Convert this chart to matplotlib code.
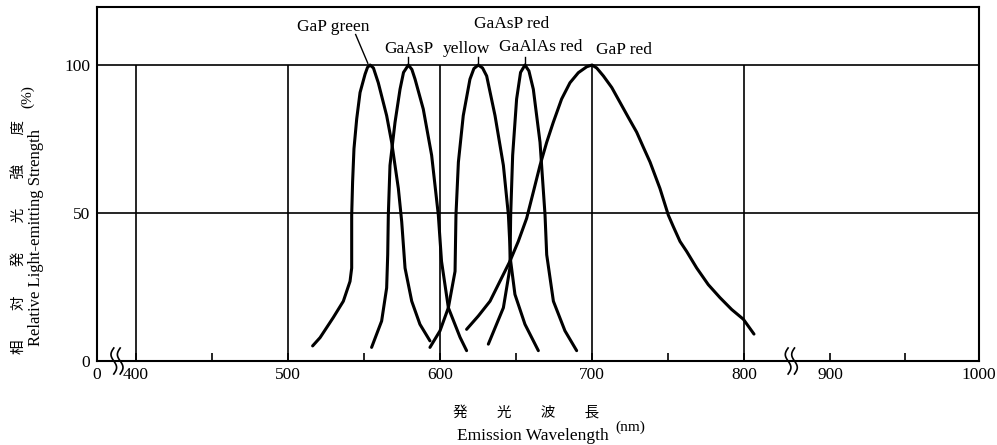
import numpy as np
import matplotlib
matplotlib.use('Agg')
import matplotlib.pyplot as plt

plt.rcParams['font.family'] = ['Liberation Serif', 'Noto Sans CJK JP', 'DejaVu Sans']

# wavelength (nm) / relative intensity (%)
gap_green_wl = [516.2, 521.1, 529.8, 536.4, 540.8, 541.9, 541.9, 541.9, 542.5, 543.4, 545.2, 547.4,
                550.7, 552.3, 554.0, 556.2, 559.4, 564.9, 568.2, 572.6, 574.8, 577.0, 581.4, 586.8, 593.4]
gap_green_y = [5.1, 7.9, 14.7, 20.2, 26.9, 31.4, 40.4, 49.3, 60.5, 71.7, 81.8, 90.7,
               96.9, 99.2, 100.0, 99.0, 94.0, 82.9, 73.9, 58.3, 47.1, 31.4, 20.2, 12.4, 6.8]

gaasp_wl = [555.0, 561.6, 564.9, 565.6, 566.0, 567.1, 570.4, 573.7, 576.0, 579.2, 581.5, 583.6, 589.0,
            594.5, 598.9, 601.0, 605.5, 613.2, 617.5]
gaasp_y = [4.6, 13.5, 24.7, 35.9, 49.3, 66.1, 80.6, 91.8, 97.5, 100.0, 98.5, 95.2, 85.1,
           69.5, 49.3, 33.7, 18.0, 8.0, 3.5]

yellow_wl = [593.4, 600.0, 605.5, 609.9, 610.5, 612.1, 615.3, 619.7, 622.3, 625.2, 628.0, 630.7,
             636.2, 641.7, 645.0, 646.5, 649.3, 655.9, 664.7]
yellow_y = [4.6, 10.2, 18.0, 30.3, 49.3, 67.2, 82.9, 95.2, 98.8, 100.0, 99.0, 96.3,
            82.9, 66.1, 49.3, 33.7, 22.5, 12.4, 3.5]

gaalas_wl = [631.8, 641.7, 646.0, 646.5, 647.8, 650.4, 653.0, 655.9, 658.5, 661.4, 665.8, 669.1,
             670.2, 674.6, 682.2, 689.9]
gaalas_y = [5.7, 18.0, 31.4, 49.3, 69.5, 88.5, 97.5, 100.0, 98.0, 91.8, 73.9, 49.3,
            35.9, 20.2, 10.2, 3.5]

gap_red_wl = [617.5, 625.2, 632.9, 646.0, 651.5, 657.0, 661.4, 665.8, 670.2, 674.5, 680.0, 685.5,
              691.0, 696.5, 700.0, 703.1, 707.5, 713.0, 718.4, 723.9, 729.4, 733.8, 738.2, 744.7,
              750.2, 753.5, 757.9, 762.3, 768.9, 776.5, 784.2, 791.9, 799.6, 811.6]
gap_red_y = [10.7, 15.2, 20.2, 33.7, 40.4, 48.2, 57.1, 66.1, 73.9, 80.6, 88.5, 94.0,
             97.4, 99.4, 100.0, 99.0, 96.3, 92.4, 87.4, 82.3, 77.3, 72.2, 67.2, 58.3,
             49.3, 45.4, 40.4, 37.0, 31.4, 25.8, 21.4, 17.4, 14.1, 9.1]

x_ticks = [0, 400, 500, 600, 700, 800, 900, 1000]
x_minor = [450, 550, 650, 750, 950]
y_ticks = [0, 50, 100]
grid_x = [400, 500, 600, 700, 800]
breaks = [205, 855]

# broken axis: piecewise linear scale
knots_wl = [0, 400, 800, 900, 1000]
knots_px = [97, 136, 744, 830, 979]


def fwd(x):
    return np.interp(x, knots_wl, knots_px)


def inv(p):
    return np.interp(p, knots_px, knots_wl)


fig = plt.figure(figsize=(9.97, 4.45), dpi=100)
ax = fig.add_axes([97 / 997, 84 / 445, 882 / 997, 354 / 445])
ax.set_xscale('function', functions=(fwd, inv))
ax.set_xlim(0, 1000)
ax.set_ylim(0, 119.6)

lw = 2.2
for wl, yy in [(gap_green_wl, gap_green_y), (gaasp_wl, gaasp_y), (yellow_wl, yellow_y),
               (gaalas_wl, gaalas_y), (gap_red_wl, gap_red_y)]:
    ax.plot(wl, yy, color='black', lw=lw, solid_capstyle='round', solid_joinstyle='round')

ax.vlines(grid_x, 0, 100, color='black', lw=1.2)
ax.axhline(50, color='black', lw=1.2)
ax.axhline(100, color='black', lw=1.2)

for s in ax.spines.values():
    s.set_linewidth(1.5)

ax.set_xticks(x_ticks)
ax.set_xticks(x_minor, minor=True)
ax.set_xticklabels([str(t) for t in x_ticks])
ax.set_yticks(y_ticks)
ax.set_yticklabels([str(t) for t in y_ticks])
ax.tick_params(axis='x', which='both', direction='in', length=6, width=1.2, labelsize=12.5, pad=4)
ax.tick_params(axis='y', length=0, labelsize=12.5, pad=5)

# curve labels
fs = 12.5
ax.text(529.9, 111.6, 'GaP green', ha='center', va='baseline', fontsize=fs)
ax.text(579.3, 104.0, 'GaAsP', ha='center', va='baseline', fontsize=fs)
ax.text(617.4, 104.0, 'yellow', ha='center', va='baseline', fontsize=fs)
ax.text(647.4, 112.4, 'GaAsP red', ha='center', va='baseline', fontsize=fs)
ax.text(666.4, 104.8, 'GaAlAs red', ha='center', va='baseline', fontsize=fs)
ax.text(721.0, 103.7, 'GaP red', ha='center', va='baseline', fontsize=fs)

# leaders
pk = gap_green_wl[int(np.argmax(gap_green_y))]
ax.plot([pk - 9.5, pk - 1.5], [110.3, 100.6], color='black', lw=1.0)
for wl, yy in [(gaasp_wl, gaasp_y), (yellow_wl, yellow_y), (gaalas_wl, gaalas_y)]:
    p = wl[int(np.argmax(yy))]
    ax.plot([p, p], [100, 102.6], color='black', lw=1.0)

# break marks on x axis (drawn in display pixels)
fig.canvas.draw()
t = np.linspace(-0.5, 0.5, 40)
for b in breaks:
    bx, by = ax.transData.transform((b, 0))
    for dx in (-3.2, 3.2):
        xs = bx + dx + 2.8 * np.sin(2 * np.pi * t)
        ys = by - t * 26
        ax.plot(xs, ys, color='black', lw=1.2, transform=None, clip_on=False)

# axis titles
fig.text(20 / 997, 0.467, '相\u3000\u3000対\u3000\u3000発\u3000\u3000光\u3000\u3000強\u3000\u3000度',
         rotation=90, ha='center', va='center', fontsize=10.5,
         family=['Noto Sans CJK JP', 'DejaVu Sans'])
fig.text(36 / 997, 0.467, 'Relative Light-emitting Strength', rotation=90,
         ha='center', va='center', fontsize=12)
fig.text(27.5 / 997, 0.782, '(%)', rotation=90, ha='center', va='center', fontsize=11)

fig.text(526 / 997, 0.0697, '発\u3000\u3000光\u3000\u3000波\u3000\u3000長', ha='center', va='center',
         fontsize=10.5, family=['Noto Sans CJK JP', 'DejaVu Sans'])
fig.text(532.5 / 997, 0.012, 'Emission Wavelength', ha='center', va='baseline', fontsize=12.5)
fig.text(615 / 997, 0.0315, '(nm)', ha='left', va='baseline', fontsize=11)

fig.savefig('out.png', dpi=100)
